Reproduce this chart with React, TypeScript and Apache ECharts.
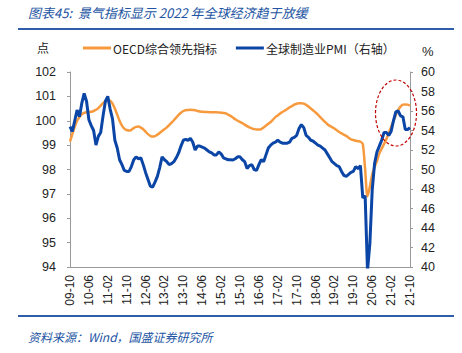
import React, { useEffect, useRef } from "react";
import * as echarts from "echarts";

const startYear = 2009;
const startMonth = 10;
const monthCount = 145;
const categories: string[] = [];
for (let k = 0; k < monthCount; k++) {
  const m0 = startMonth - 1 + k;
  const y = startYear + Math.floor(m0 / 12);
  const m = (m0 % 12) + 1;
  categories.push(String(y % 100).padStart(2, "0") + "-" + String(m).padStart(2, "0"));
}

const oecdName = "OECD综合领先指标";
const pmiName = "全球制造业PMI（右轴）";

const oecdValues: number[] = [
  99.14, 99.45, 99.75, 100.0, 100.15, 100.27, 100.32, 100.35, 100.36, 100.37,
  100.4, 100.45, 100.52, 100.62, 100.72, 100.8, 100.85, 100.82, 100.7, 100.5,
  100.25, 100.0, 99.8, 99.68, 99.62, 99.6, 99.63, 99.7, 99.75, 99.76,
  99.72, 99.65, 99.55, 99.45, 99.38, 99.35, 99.37, 99.43, 99.5, 99.58,
  99.65, 99.73, 99.82, 99.92, 100.02, 100.13, 100.24, 100.33, 100.4, 100.43,
  100.44, 100.45, 100.44, 100.43, 100.4, 100.38, 100.37, 100.36, 100.36, 100.35,
  100.35, 100.35, 100.35, 100.34, 100.33, 100.32, 100.3, 100.25, 100.2, 100.13,
  100.06, 100.0, 99.95, 99.9, 99.84, 99.78, 99.73, 99.69, 99.66, 99.64,
  99.64, 99.66, 99.72, 99.8, 99.88, 99.95, 100.05, 100.15, 100.22, 100.3,
  100.36, 100.42, 100.48, 100.55, 100.6, 100.66, 100.7, 100.72, 100.72, 100.7,
  100.65, 100.58, 100.5, 100.42, 100.34, 100.25, 100.15, 100.05, 99.95, 99.86,
  99.79, 99.74, 99.68, 99.61, 99.54, 99.48, 99.43, 99.38, 99.3, 99.24,
  99.21, 99.18, 99.16, 99.14, 99.05, 98.0, 96.9, 97.3, 97.8, 98.1,
  98.35, 98.65, 98.85, 99.05, 99.25, 99.5, 99.75, 100.0, 100.25, 100.45,
  100.58, 100.66, 100.67, 100.66, 100.62,
];

const pmiValues: number[] = [
  54.4, 53.9, 55.0, 56.1, 55.4, 56.8, 57.8, 57.0, 55.1, 54.5,
  54.0, 52.5, 53.4, 53.8, 55.5, 57.0, 57.5, 56.2, 55.2, 53.0,
  52.2, 51.0, 50.5, 49.9, 49.8, 49.8, 50.3, 51.0, 51.3, 51.1,
  51.2, 50.5, 49.7, 49.0, 48.3, 48.2, 48.7, 49.3, 50.2, 51.3,
  51.0, 50.8, 50.5, 50.6, 50.8, 51.2, 51.7, 52.4, 53.0, 53.1,
  53.0, 53.2, 52.8, 52.0, 52.4, 52.4, 52.3, 52.2, 52.0, 51.8,
  51.7, 51.5, 51.5, 51.8, 51.6, 51.2, 51.1, 51.0, 51.0, 50.97,
  51.1, 51.3, 51.3, 51.0, 50.8, 50.1, 50.4, 50.5, 50.0, 49.9,
  50.5, 51.0, 50.8, 51.5, 52.2, 52.5, 52.7, 52.8, 53.0, 52.8,
  52.7, 52.7, 52.7, 52.8, 53.2, 53.3, 53.5, 54.2, 54.6, 54.3,
  53.5, 53.3, 53.0, 52.9, 52.7, 52.5, 52.4, 52.2, 52.0, 51.6,
  51.2, 50.8, 50.6, 50.4, 50.3, 49.8, 49.4, 49.3, 49.5, 49.7,
  49.8, 50.3, 50.1, 50.4, 47.1, 47.3, 39.6, 42.4, 47.9, 50.6,
  51.8, 52.4, 53.0, 53.8, 53.8, 53.5, 53.9, 55.0, 55.9, 56.0,
  55.5, 55.4, 54.1, 54.1, 54.3,
];

const titleText = "图表45:  景气指标显示 2022 年全球经济趋于放缓";
const sourceText = "资料来源：Wind，国盛证券研究所";
const leftUnit = "点";
const rightUnit = "%";

export default function App() {
  const ref = useRef<HTMLDivElement>(null);
  useEffect(() => {
    if (!ref.current) return;
    const chart = echarts.init(ref.current, undefined, { renderer: "svg" });
    const blueText = "#2254A3";
    const axisGray = "#9A9A9A";
    const labelFont = "'Liberation Sans', Arial, sans-serif";
    const cjkFont = "'Noto Sans CJK SC', sans-serif";
    chart.setOption({
      animation: false,
      backgroundColor: "#ffffff",
      grid: { left: 70, right: 52, top: 72, bottom: 86, containLabel: false },
      legend: {
        top: 42,
        left: 83,
        padding: 0,
        itemWidth: 28,
        itemHeight: 3,
        itemGap: 19,
        icon: "rect",
        textStyle: { fontSize: 12, color: "#222", fontFamily: cjkFont, padding: [0, 0, 0, -3] },
        data: [oecdName, pmiName],
      },
      xAxis: {
        type: "category",
        data: categories,
        boundaryGap: false,
        axisLine: { show: true, lineStyle: { color: axisGray, width: 1 } },
        axisTick: { show: false },
        axisLabel: {
          interval: 7,
          rotate: 90,
          margin: 8,
          fontSize: 12,
          color: "#222",
          fontFamily: labelFont,
        },
        splitLine: { show: false },
      },
      yAxis: [
        {
          type: "value",
          min: 94,
          max: 102,
          interval: 1,
          axisLine: { show: true, lineStyle: { color: axisGray } },
          axisTick: { show: true, length: 3, lineStyle: { color: axisGray } },
          axisLabel: { fontSize: 12.5, color: "#222", margin: 14, fontFamily: labelFont },
          splitLine: { show: false },
        },
        {
          type: "value",
          min: 40,
          max: 60,
          interval: 2,
          position: "right",
          axisLine: { show: true, lineStyle: { color: axisGray } },
          axisTick: { show: true, length: 3, lineStyle: { color: axisGray } },
          axisLabel: { fontSize: 12.5, color: "#222", margin: 11, fontFamily: labelFont },
          splitLine: { show: false },
        },
      ],
      series: [
        {
          name: oecdName,
          type: "line",
          yAxisIndex: 0,
          data: oecdValues,
          symbol: "none",
          smooth: 0.3,
          lineStyle: { color: "#F79A3E", width: 2.5 },
          itemStyle: { color: "#F79A3E" },
          z: 2,
        },
        {
          name: pmiName,
          type: "line",
          yAxisIndex: 1,
          data: pmiValues,
          symbol: "none",
          lineStyle: { color: "#0B45A6", width: 3 },
          itemStyle: { color: "#0B45A6" },
          clip: true,
          z: 3,
        },
      ],
      graphic: [
        {
          type: "text",
          left: 28,
          top: 6,
          style: {
            text: titleText,
            fill: blueText,
            font: "italic 13px 'Noto Sans CJK SC', sans-serif",
          },
        },
        {
          type: "rect",
          shape: { x: 18, y: 28, width: 436, height: 2 },
          style: { fill: "#2E5EAA" },
        },
        {
          type: "rect",
          shape: { x: 18, y: 315, width: 436, height: 2 },
          style: { fill: "#2E5EAA" },
        },
        {
          type: "text",
          left: 28,
          top: 330,
          style: {
            text: sourceText,
            fill: blueText,
            font: "italic 12px 'Noto Sans CJK SC', sans-serif",
          },
        },
        {
          type: "text",
          left: 37,
          top: 41,
          style: { text: leftUnit, fill: "#222", font: "12px 'Noto Sans CJK SC', sans-serif" },
        },
        {
          type: "text",
          left: 422,
          top: 45,
          style: { text: rightUnit, fill: "#222", font: "13px 'Liberation Sans', Arial, sans-serif" },
        },
        {
          type: "ellipse",
          shape: { cx: 396, cy: 113, rx: 20.5, ry: 33 },
          style: { fill: "none", stroke: "#C00000", lineWidth: 1.2, lineDash: [3, 2] },
          z: 10,
        },
      ],
    });
    return () => chart.dispose();
  }, []);
  return (
    <div
      ref={ref}
      style={{ position: "fixed", left: 0, top: 0, width: 462, height: 353 }}
    />
  );
}
